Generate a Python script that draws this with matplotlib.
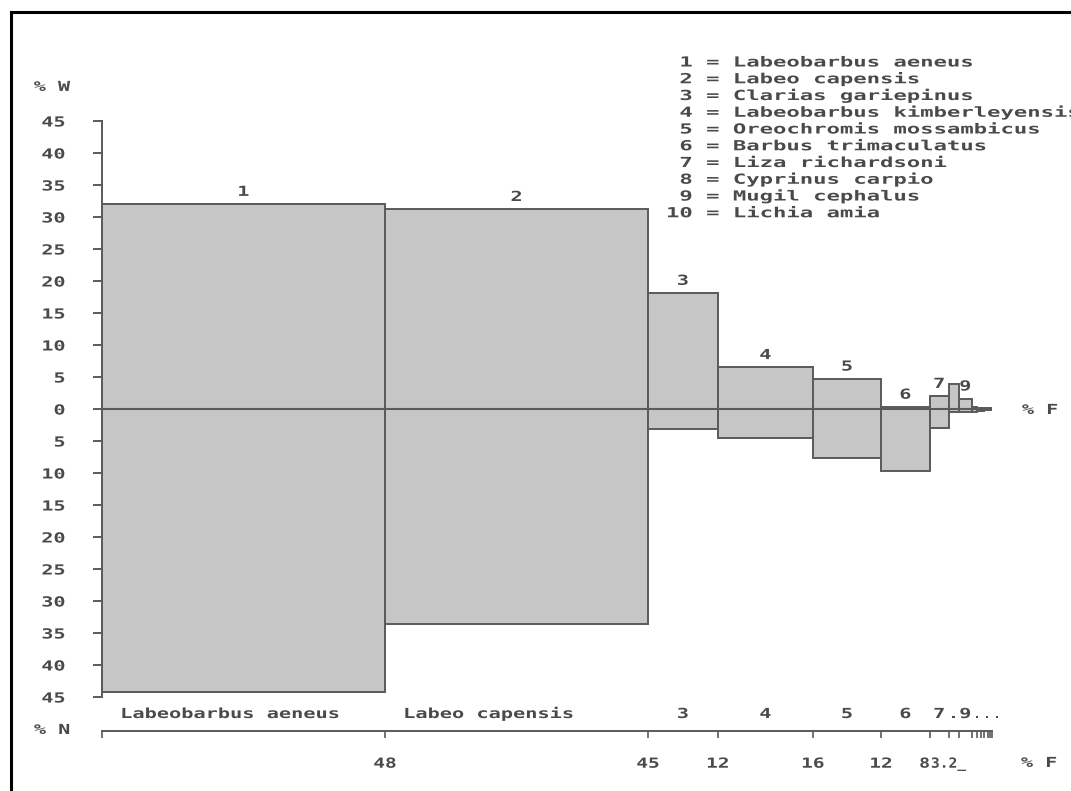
import matplotlib
matplotlib.use("Agg")
import matplotlib.pyplot as plt
import numpy as np
from matplotlib.patheffects import AbstractPathEffect
from matplotlib.transforms import Affine2D, blended_transform_factory
from matplotlib.lines import Line2D

# ---------------- data ----------------
species = ["Labeobarbus aeneus", "Labeo capensis", "Clarias gariepinus",
           "Labeobarbus kimberleyensis", "Oreochromis mossambicus",
           "Barbus trimaculatus", "Liza richardsoni", "Cyprinus carpio",
           "Mugil cephalus", "Lichia amia"]
species_no = ["1", "2", "3", "4", "5", "6", "7", "8", "9", "10"]

# % frequency of occurrence (bar widths); last entries = minor, unnamed taxa
pct_F = [48.2, 44.8, 11.9, 16.2, 11.6, 8.3, 3.2, 1.7, 2.3, 0.85, 0.6, 0.6, 0.6, 0.4, 0.35]
# % weight (above zero) and % number (below zero)
pct_W = [32.0, 31.2, 18.1, 6.5, 4.7, 0.3, 2.0, 3.9, 1.6, 0.3, 0.1, 0.1, 0.1, 0.1, 0.1]
pct_N = [44.2, 33.6, 3.1, 4.5, 7.7, 9.7, 3.0, 0.5, 0.5, 0.5, 0.3, 0.3, 0.2, 0.2, 0.2]

top_labels = ["1", "2", "3", "4", "5", "6", "7", "", "9", "", "", "", "", "", ""]
row_labels = ["Labeobarbus aeneus", "Labeo capensis", "3", "4", "5", "6", "7", ".", "9", "..."]
F_labels = ["48", "45", "12", "16", "12", "8", "3.2_", "", "", "", "", "", "", "", ""]
y_ticks = list(range(-45, 50, 5))
y_ticklabels = [str(abs(v)) for v in y_ticks]

# ---------------- style ----------------
W_PX, H_PX = 1071, 791
FILL = "#c6c6c6"
EDGE = "#5a5a5a"
TXT = "#4a4a4a"
FONT = dict(family="DejaVu Sans Mono", weight="bold", size=10, color=TXT)


class HStretch(AbstractPathEffect):
    """Widen glyphs horizontally to mimic the wide bitmap font of the original."""

    def __init__(self, sx, anchor="center"):
        super().__init__()
        self.sx = sx
        self.anchor = anchor

    def draw_path(self, renderer, gc, tpath, affine, rgbFace=None):
        if self.anchor == "left":
            a = 0.0
        else:
            ext = tpath.get_extents()
            a = ext.x1 if self.anchor == "right" else 0.5 * (ext.x0 + ext.x1)
        pre = Affine2D().translate(-a, 0).scale(self.sx, 1.0).translate(a, 0)
        renderer.draw_path(gc, tpath, pre + affine, rgbFace)


def fx(px):
    return px / W_PX


def fy(py):
    return 1 - py / H_PX


fig = plt.figure(figsize=(W_PX / 100, H_PX / 100), dpi=100)
fig.patch.set_facecolor("white")

# outer frame (only left/top visible)
fig.add_artist(Line2D([fx(10.5), fx(10.5)], [fy(11.5), fy(H_PX + 5)], color="black", lw=2.2))
fig.add_artist(Line2D([fx(10.5), fx(W_PX + 5)], [fy(11.5), fy(11.5)], color="black", lw=2.2))

total_F = sum(pct_F)
ax_left, ax_right = 102, 992
ax_top, ax_bot = 121, 697
ax = fig.add_axes([fx(ax_left), fy(ax_bot), (ax_right - ax_left) / W_PX, (ax_bot - ax_top) / H_PX])
ax.set_xlim(0, total_F)
ax.set_ylim(-45, 45)
ax.patch.set_visible(False)
for s in ["top", "right", "bottom"]:
    ax.spines[s].set_visible(False)
ax.spines["left"].set_color(EDGE)
ax.spines["left"].set_linewidth(1.4)
ax.set_xticks([])
ax.set_yticks(y_ticks)
ax.set_yticklabels(y_ticklabels)
ax.tick_params(axis="y", direction="out", length=6.5, width=1.4, color=EDGE, pad=20)
for lbl in ax.get_yticklabels():
    lbl.set_fontfamily(FONT["family"])
    lbl.set_fontweight("bold")
    lbl.set_fontsize(10)
    lbl.set_color(TXT)
    lbl.set_path_effects([HStretch(1.45, "right")])

edges = np.concatenate([[0], np.cumsum(pct_F)])
lefts = edges[:-1]
W = np.array(pct_W)
N = np.array(pct_N)
ax.bar(lefts, W + N, bottom=-N, width=pct_F, align="edge",
       color=FILL, edgecolor=EDGE, linewidth=1.4, zorder=2)
ax.axhline(0, color=EDGE, lw=1.5, zorder=3)

centers = lefts + np.array(pct_F) / 2
for c, w, t in zip(centers, W, top_labels):
    if t:
        ax.annotate(t, xy=(c, w), xytext=(0, 6), textcoords="offset points",
                    ha="center", va="baseline", **FONT,
                    path_effects=[HStretch(1.45, "center")])

# species row above the %F axis
tr = blended_transform_factory(ax.transData, fig.transFigure)
for i, t in enumerate(row_labels):
    if len(t) > 3:
        ax.text(lefts[i] + 3.1, fy(718), t, transform=tr, ha="left", va="baseline",
                **FONT, path_effects=[HStretch(1.46, "left")])
    elif t == "...":
        ax.text(lefts[i], fy(718), t, transform=tr, ha="left", va="baseline",
                **FONT, path_effects=[HStretch(1.2, "left")])
    else:
        ax.text(centers[i], fy(718), t, transform=tr, ha="center", va="baseline",
                **FONT, path_effects=[HStretch(1.45, "center")])

# %F axis
ax2 = fig.add_axes([fx(ax_left), fy(731), (ax_right - ax_left) / W_PX, 0.0005])
ax2.set_xlim(0, total_F)
ax2.patch.set_visible(False)
for s in ["top", "right", "left"]:
    ax2.spines[s].set_visible(False)
ax2.spines["bottom"].set_color(EDGE)
ax2.spines["bottom"].set_linewidth(1.4)
ax2.set_yticks([])
ax2.set_xticks(edges)
ax2.set_xticklabels([""] + F_labels)
ax2.tick_params(axis="x", direction="out", length=5, width=1.2, color=EDGE, pad=13.5)
fig.canvas.draw()
xt = ax2.get_xticklabels()
for i, lbl in enumerate(xt):
    lbl.set_fontfamily(FONT["family"])
    lbl.set_fontweight("bold")
    lbl.set_fontsize(10)
    lbl.set_color(TXT)
    txt = lbl.get_text()
    if "." in txt:
        lbl.set_path_effects([HStretch(1.05, "center")])
    elif i + 1 < len(xt) and "." in xt[i + 1].get_text():
        # crowded neighbour: right-align so the two labels do not collide
        lbl.set_horizontalalignment("right")
        lbl.set_path_effects([HStretch(1.3, "right")])
    else:
        lbl.set_path_effects([HStretch(1.4, "center")])

# axis captions
def cap(x, y, s, ha="center", sx=1.45, anchor="center"):
    fig.text(fx(x), fy(y), s, ha=ha, va="baseline", **FONT,
             path_effects=[HStretch(sx, anchor)])

cap(52, 91, "% W")
cap(52, 734, "% N")
cap(1040, 414, "% F")
cap(1039, 767, "% F")

# legend block
for k, (no, name) in enumerate(zip(species_no, species)):
    line = f"{no:>2} = {name}"
    fig.text(fx(666), fy(61.5 + 16.75 * k + 5), line, ha="left", va="baseline",
             **FONT, path_effects=[HStretch(1.6, "left")])

fig.savefig("out.png", dpi=100, facecolor="white")
